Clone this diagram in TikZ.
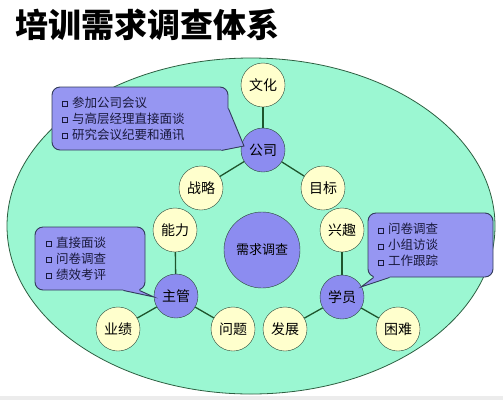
\documentclass[tikz,border=0pt]{standalone}
\usepackage{fontspec}
\usetikzlibrary{calc}
\newfontfamily\cjk{Noto Sans CJK SC}
\definecolor{ovalfill}{RGB}{155,247,210}
\definecolor{ovalline}{RGB}{45,95,65}
\definecolor{topicfill}{RGB}{140,140,240}
\definecolor{leaffill}{RGB}{255,255,205}
\definecolor{bubblefill}{RGB}{150,150,242}
\definecolor{bubbleline}{RGB}{50,60,90}
\definecolor{ringline}{RGB}{40,70,55}
\definecolor{linkgreen}{RGB}{30,85,45}
\definecolor{itemtext}{RGB}{25,25,60}
\newcommand\bul{\raisebox{1pt}{\setlength\fboxsep{0pt}\setlength\fboxrule{1.1pt}\fbox{\rule{0pt}{4pt}\hspace{4pt}}}\hspace{4pt}}
\begin{document}
\begin{tikzpicture}[
  x=1pt, y=-1pt,
  every node/.style={font=\cjk},
  leaf/.style={circle, draw=ringline, fill=leaffill, minimum size=44pt, inner sep=0pt,
    font=\cjk\fontsize{14}{14}\selectfont},
  topic/.style={leaf, fill=topicfill},
  hub/.style={topic, minimum size=76pt, font=\cjk\fontsize{13}{13}\selectfont},
  link/.style={draw=linkgreen, line width=1.3pt},
  bubble/.style={draw=bubbleline, fill=bubblefill, rounded corners=8pt, line width=0.9pt,
    inner sep=0pt, align=left, text=itemtext, font=\cjk\fontsize{12.5}{16}\selectfont},
  pointer/.style={draw=bubbleline, line width=0.9pt}
]
\useasboundingbox (0,0) rectangle (503,400);
\fill[gray!15] (0,396) rectangle (503,400);

% title
\node[anchor=west, font=\cjk\bfseries\fontsize{33}{33}\selectfont] (title) at (12,25) {培训需求调查体系};

% big oval
\draw[draw=ovalline, fill=ovalfill, line width=0.8pt] (251,226) ellipse [x radius=244pt, y radius=168pt];

% company branch
\node[leaf] (wh) at (263,85) {文化};
\node[topic] (gs) at (263,150) {公司};
\node[leaf] (zl) at (201,188) {战略};
\node[leaf] (mb) at (323,188) {目标};

% centre
\node[hub] (xq) at (262,250) {需求调查};

% manager branch
\node[leaf] (nl) at (175,230) {能力};
\node[topic] (zg) at (176,296) {主管};
\node[leaf] (yj) at (118,329) {业绩};
\node[leaf] (wt) at (233,329) {问题};

% trainee branch
\node[leaf] (xqu) at (342,230) {兴趣};
\node[topic] (xy) at (342,297) {学员};
\node[leaf] (fz) at (285,329) {发展};
\node[leaf] (kn) at (398,329) {困难};

\draw[link] (wh) -- (gs);
\draw[link] (gs) -- (zl);
\draw[link] (gs) -- (mb);
\draw[link] (nl) -- (zg);
\draw[link] (zg) -- (yj);
\draw[link] (zg) -- (wt);
\draw[link] (xqu) -- (xy);
\draw[link] (xy) -- (fz);
\draw[link] (xy) -- (kn);

% callouts
\node[bubble, minimum width=176pt, minimum height=63pt, text width=156pt] (tl) at (140,118.5)
  {\bul 参加公司会议\\ \bul 与高层经理直接面谈\\ \bul 研究会议纪要和通讯};
\coordinate (tltip) at (244,146);
\fill[bubblefill] ($(tl.east)+(0,-10)$) -- (tltip) -- ($(tl.south east)+(-7,0)$) -- ($(tl.south east)+(-9,-3)$) -- ($(tl.east)+(-3,-10)$) -- cycle;
\draw[pointer] ($(tl.east)+(0,-10)$) -- (tltip) -- ($(tl.south east)+(-7,0)$);

\node[bubble, minimum width=110pt, minimum height=63pt, text width=88pt] (lf) at (90,258.5)
  {\bul 直接面谈\\ \bul 问卷调查\\ \bul 绩效考评};
\coordinate (lftip) at (154,297);
\fill[bubblefill] ($(lf.south east)+(-22,0)$) -- (lftip) -- ($(lf.south east)+(-6,0)$) -- ($(lf.south east)+(-6,-3)$) -- ($(lf.south east)+(-22,-3)$) -- cycle;
\draw[pointer] ($(lf.south east)+(-22,0)$) -- (lftip) -- ($(lf.south east)+(-6,0)$);

\node[bubble, minimum width=125pt, minimum height=64pt, text width=105pt] (rt) at (430.5,245)
  {\bul 问卷调查\\ \bul 小组访谈\\ \bul 工作跟踪};
\coordinate (rttip) at (361,287);
\fill[bubblefill] ($(rt.south west)+(6,0)$) -- (rttip) -- ($(rt.south west)+(22,0)$) -- ($(rt.south west)+(22,-3)$) -- ($(rt.south west)+(6,-3)$) -- cycle;
\draw[pointer] ($(rt.south west)+(6,0)$) -- (rttip) -- ($(rt.south west)+(22,0)$);
\end{tikzpicture}
\end{document}
